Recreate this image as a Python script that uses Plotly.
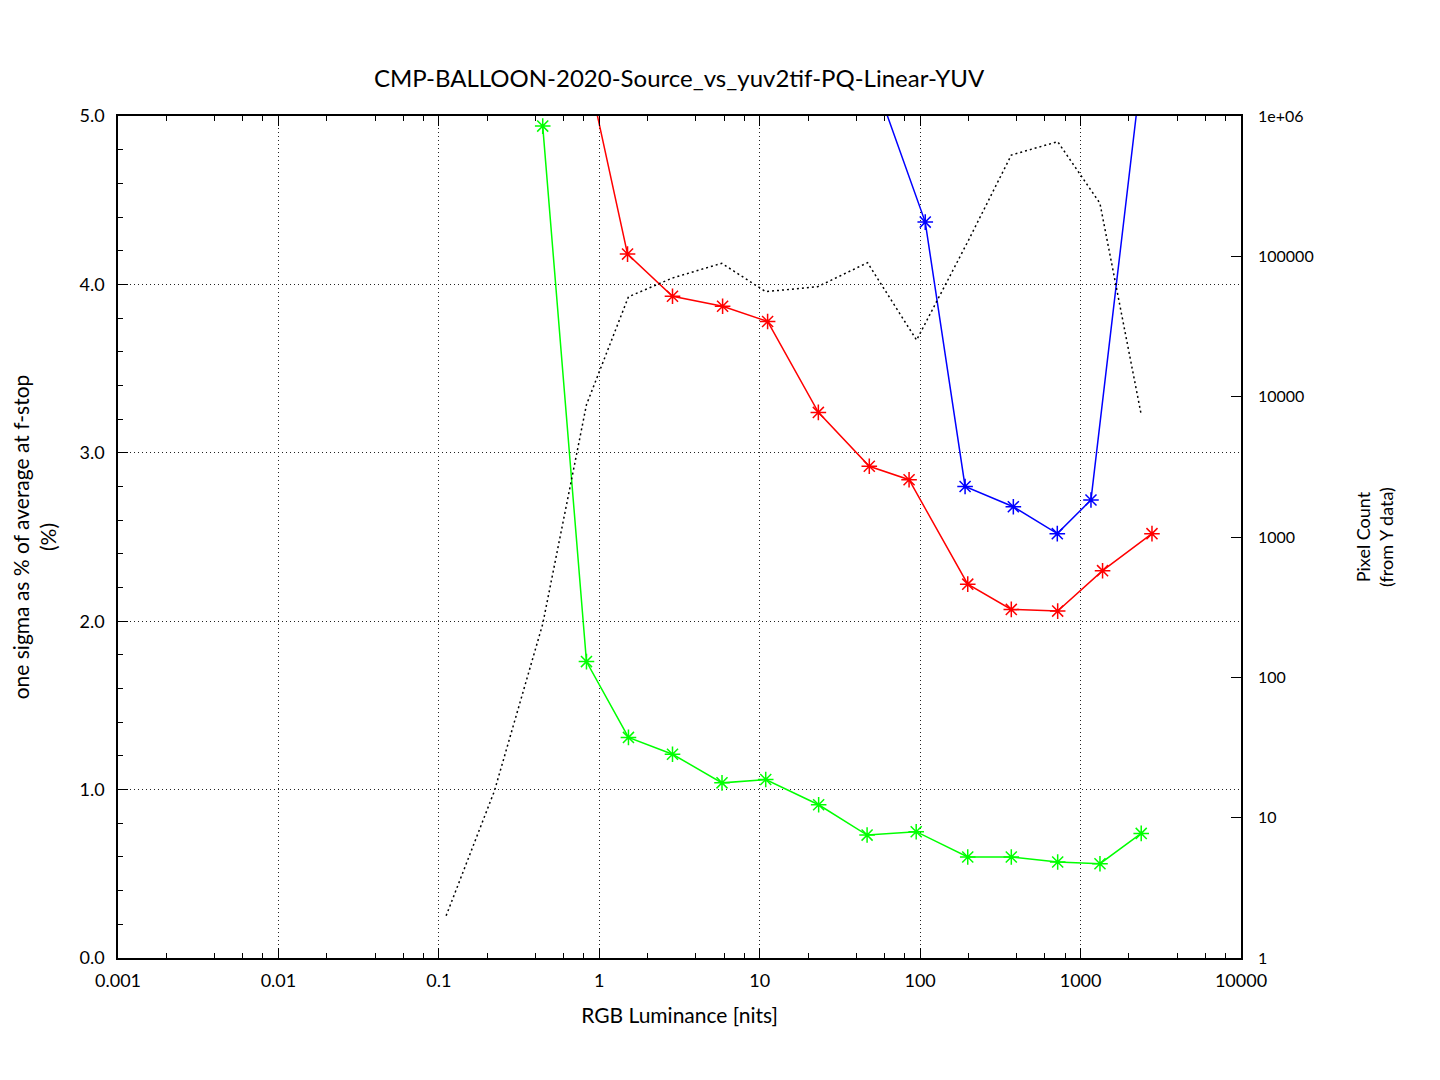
import plotly.graph_objects as go

TITLE = "CMP-BALLOON-2020-Source_vs_yuv2tif-PQ-Linear-YUV"

# sigma curves (left axis, %)
green_x = [0.444, 0.832, 1.52, 2.86, 5.82, 10.9, 23.3, 46.7, 94.5, 198, 370, 720, 1321, 2388]
green_y = [4.94, 1.76, 1.31, 1.21, 1.04, 1.06, 0.91, 0.73, 0.75, 0.60, 0.60, 0.57, 0.56, 0.74]

red_x = [0.832, 1.50, 2.86, 5.87, 11.2, 23.2, 48.2, 85.3, 198, 370, 720, 1371, 2787]
red_y = [5.30, 4.18, 3.93, 3.87, 3.78, 3.24, 2.92, 2.84, 2.22, 2.07, 2.06, 2.30, 2.52]

blue_x = [50, 107.6, 190.6, 381, 716, 1161, 2390]
blue_y = [5.26, 4.37, 2.80, 2.68, 2.52, 2.72, 5.26]

# pixel count histogram (right axis, log)
hist_x = [0.111, 0.222, 0.444, 0.832, 1.52, 2.86, 5.8, 10.9, 23, 47, 95, 198, 370, 720, 1320, 2390]
hist_y = [2, 15.5, 240, 8770, 51500, 70100, 89200, 56000, 60800, 90100, 25300, 127000,
          527000, 656000, 239000, 7400]

x_ticks = [0.001, 0.01, 0.1, 1, 10, 100, 1000, 10000]
x_ticktext = ["0.001", "0.01", "0.1", "1", "10", "100", "1000", "10000"]
y2_ticks = [1, 10, 100, 1000, 10000, 100000, 1000000]
y2_ticktext = ["1", "10", "100", "1000", "10000", "100000", "1e+06"]

FONT = "Lato"
GRID = dict(showgrid=True, gridcolor="#222222", griddash="1px,3px", gridwidth=1)

x_minor = [d * m for d in x_ticks[:-1] for m in (2, 4, 6, 8)]

fig = go.Figure()

fig.add_trace(go.Scatter(x=hist_x, y=hist_y, yaxis="y2", mode="lines",
                         line=dict(color="black", width=1.5, dash="2px,3px"),
                         showlegend=False))

for xs, ys, col in [(green_x, green_y, "#00ff00"),
                    (red_x, red_y, "#ff0000"),
                    (blue_x, blue_y, "#0000ff")]:
    fig.add_trace(go.Scatter(x=xs, y=ys, mode="lines+markers",
                             line=dict(color=col, width=1.5),
                             marker=dict(symbol="asterisk-open", size=13,
                                         line=dict(color=col, width=1.5)),
                             showlegend=False))

# page body adds ~8px offset, margins compensate for it
fig.update_layout(
    width=1440, height=1080,
    margin=dict(l=110, r=207, t=108, b=130),
    paper_bgcolor="white", plot_bgcolor="white",
    font=dict(family=FONT, color="black", size=18),
    title=dict(text=TITLE, x=0.466, xanchor="center", y=0.935, yanchor="middle",
               font=dict(size=24)),
    xaxis=dict(
        type="log", range=[-3, 4],
        tickmode="array", tickvals=x_ticks, ticktext=x_ticktext,
        ticks="inside", ticklen=10, tickcolor="black", ticklabelstandoff=6,
        showline=True, linecolor="black", linewidth=1.5, mirror="ticks",
        minor=dict(tickmode="array", tickvals=x_minor, ticks="inside", ticklen=5,
                   tickcolor="black", showgrid=False),
        zeroline=False, automargin=False,
        title=dict(text="RGB Luminance [nits]", font=dict(size=21), standoff=18),
        **GRID,
    ),
    yaxis=dict(
        range=[0, 5], dtick=1, tickformat=".1f",
        ticks="inside", ticklen=10, tickcolor="black", ticklabelstandoff=8,
        showline=True, linecolor="black", linewidth=1.5, mirror=True,
        minor=dict(dtick=0.2, ticks="inside", ticklen=5, tickcolor="black", showgrid=False),
        zeroline=False, automargin=False,
        title=dict(text="one sigma as % of average at f-stop<br>(%)", font=dict(size=21),
                   standoff=24),
        **GRID,
    ),
    yaxis2=dict(
        type="log", range=[0, 6], overlaying="y", side="right",
        tickmode="array", tickvals=y2_ticks, ticktext=y2_ticktext,
        ticks="inside", ticklen=10, tickcolor="black", ticklabelstandoff=16,
        showgrid=False, zeroline=False, showline=False, automargin=False,
        tickfont=dict(size=16),
        title=dict(text="Pixel Count<br>(from Y data)", font=dict(size=18), standoff=44),
    ),
)

fig.write_html("out.html")
